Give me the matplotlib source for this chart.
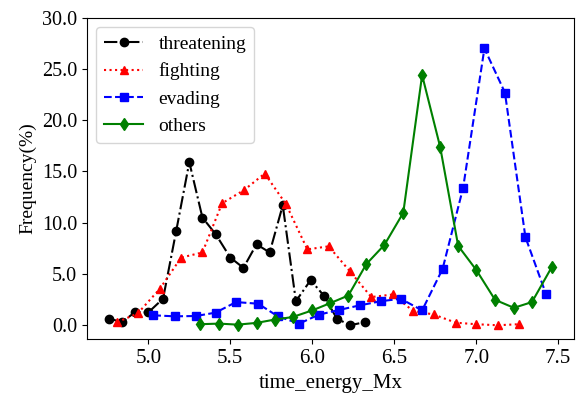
import matplotlib
matplotlib.use("Agg")
import matplotlib.pyplot as plt

plt.rcParams['font.family'] = ['Liberation Serif', 'DejaVu Serif']

x_threat = [4.76, 4.84, 4.92, 5.00, 5.09, 5.17, 5.25, 5.33, 5.41, 5.50,
            5.58, 5.66, 5.74, 5.82, 5.90, 5.99, 6.07, 6.15, 6.23, 6.32]
y_threat = [0.65, 0.3, 1.3, 1.25, 2.6, 9.2, 15.9, 10.5, 8.9, 6.6,
            5.6, 7.9, 7.1, 11.7, 2.35, 4.4, 2.9, 0.65, 0.0, 0.3]

x_fight = [4.81, 4.935, 5.07, 5.20, 5.33, 5.45, 5.585, 5.71, 5.84, 5.97,
           6.10, 6.23, 6.36, 6.49, 6.615, 6.74, 6.875, 7.00, 7.13, 7.26]
y_fight = [0.3, 1.15, 3.55, 6.6, 7.1, 11.9, 13.2, 14.8, 11.8, 7.4,
           7.7, 5.25, 2.75, 3.0, 1.4, 1.05, 0.25, 0.1, 0.0, 0.1]

x_evade = [5.03, 5.16, 5.29, 5.41, 5.535, 5.67, 5.79, 5.92, 6.04, 6.165,
           6.29, 6.42, 6.54, 6.67, 6.795, 6.92, 7.05, 7.175, 7.30, 7.425]
y_evade = [0.97, 0.87, 0.9, 1.23, 2.26, 2.1, 0.87, 0.16, 1.03, 1.5,
           1.94, 2.35, 2.58, 1.45, 5.5, 13.4, 27.0, 22.7, 8.6, 3.07]

x_other = [5.315, 5.43, 5.545, 5.66, 5.77, 5.88, 6.00, 6.11, 6.22, 6.33,
           6.44, 6.555, 6.67, 6.78, 6.89, 7.00, 7.115, 7.23, 7.34, 7.46]
y_other = [0.1, 0.16, 0.06, 0.23, 0.55, 0.8, 1.45, 2.16, 2.9, 5.97,
           7.84, 10.97, 24.4, 17.4, 7.74, 5.4, 2.48, 1.7, 2.26, 5.65]

fig = plt.figure(figsize=(5.83, 3.96), dpi=100)
ax = fig.add_axes([0.1487, 0.1432, 0.985 - 0.1487, 0.9553 - 0.1432])

ax.plot(x_threat, y_threat, color='black', linestyle='-.', marker='o',
        markersize=6, linewidth=1.5, label='threatening')
ax.plot(x_fight, y_fight, color='red', linestyle=':', marker='^',
        markersize=6, linewidth=1.5, label='fighting')
ax.plot(x_evade, y_evade, color='blue', linestyle='--', marker='s',
        markersize=6, linewidth=1.5, label='evading')
ax.plot(x_other, y_other, color='green', linestyle='-', marker='d',
        markersize=6, linewidth=1.5, label='others')

ax.set_ylim(-1.37, 30)
ax.set_xlim(4.624, 7.598)
ax.set_yticks([0, 5, 10, 15, 20, 25, 30])
ax.set_xticks([5.0, 5.5, 6.0, 6.5, 7.0, 7.5])
ax.yaxis.set_major_formatter(matplotlib.ticker.FormatStrFormatter('%.1f'))
ax.xaxis.set_major_formatter(matplotlib.ticker.FormatStrFormatter('%.1f'))
ax.tick_params(axis='x', labelsize=15)
ax.tick_params(axis='y', labelsize=14.5)
ax.set_xlabel('time_energy_Mx', fontsize=15)
ax.set_ylabel('Frequency(%)', fontsize=14)
ax.legend(loc='upper left', fontsize=14)

fig.savefig('out.png', dpi=100)
